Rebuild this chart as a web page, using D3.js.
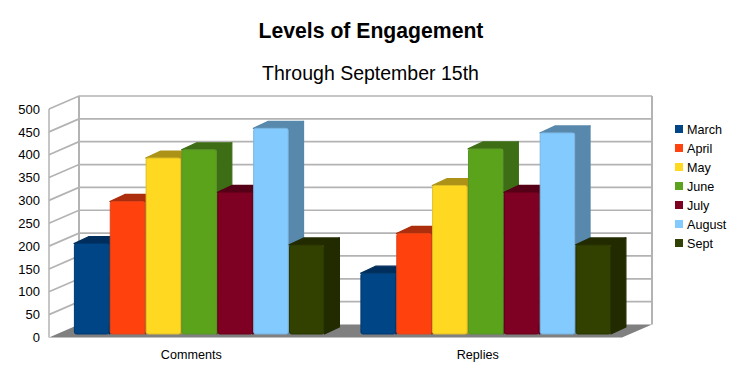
<!DOCTYPE html>
<html><head><meta charset="utf-8">
<script src="https://cdnjs.cloudflare.com/ajax/libs/d3/7.8.5/d3.min.js"></script>
<style>html,body{margin:0;background:#fff}svg{display:block}text{font-family:"Liberation Sans",Arial,sans-serif;fill:#000}</style>
</head><body><svg id="c" width="740" height="370"></svg>
<script>
const categories = ["Comments","Replies"];
const seriesNames = ["March","April","May","June","July","August","Sept"];
const comments = [198,290,385,403,310,450,195];
const replies = [133,220,325,405,310,440,195];
const colors = ["#004586","#ff420e","#ffd820","#5ba31e","#7e0021","#83caff","#314004"];
const yTicks = [0,50,100,150,200,250,300,350,400,450,500];
const titleText = "Levels of Engagement", subtitleText = "Through September 15th";

const svg = d3.select("#c");
const defs = svg.append("defs");
defs.append("filter").attr("id","soft").append("feGaussianBlur").attr("stdDeviation",0.35);

const x = d3.scaleBand().domain(categories).range([49,622]);
const inner = d3.scaleBand().domain(seriesNames).range([25,276]);
const yWall = d3.scaleLinear().domain([0,500]).range([337.5,109]);   // front plane of the axis
const yBar = d3.scaleLinear().domain([0,500]).range([334,105.5]);    // plane of the bars
const wallDx = 30, wallDy = -13, barDx = 15, barDy = -7;
const grid = "#b3b3b3";

const plot = svg.append("g").attr("filter","url(#soft)");

// gridlines and walls
plot.append("g").selectAll("path").data(yTicks.filter(t=>t>0)).join("path")
  .attr("fill","none").attr("stroke",grid).attr("stroke-width",1.7)
  .attr("d",t=>d3.line()([[x.range()[0],yWall(t)],[x.range()[0]+wallDx,yWall(t)+wallDy],[x.range()[1]+wallDx,yWall(t)+wallDy]]));
plot.append("path").attr("fill","none").attr("stroke",grid).attr("stroke-width",1.5)
  .attr("d",d3.line()([[x.range()[0],yWall(0)],[x.range()[0],yWall(500)]]));
plot.append("path").attr("fill","none").attr("stroke",grid).attr("stroke-width",2)
  .attr("d",d3.line()([[x.range()[0]+wallDx,yWall(0)+wallDy],[x.range()[0]+wallDx,yWall(500)+wallDy]]));
plot.append("path").attr("fill","none").attr("stroke",grid).attr("stroke-width",2)
  .attr("d",d3.line()([[x.range()[1]+wallDx,yWall(0)+wallDy],[x.range()[1]+wallDx,yWall(500)+wallDy]]));

// floor
const fb = yWall(0);
plot.append("path").attr("fill","#808080")
  .attr("d",d3.line()([[x.range()[0],fb],[x.range()[0]+wallDx,fb+wallDy],[x.range()[1]+wallDx,fb+wallDy],[x.range()[1],fb]]));

// bars
const valuesByCat = {Comments:comments, Replies:replies};
categories.forEach(cat=>{
  const g = plot.append("g");
  seriesNames.forEach((s,i)=>{
    const v = valuesByCat[cat][i], c = d3.color(colors[i]);
    const x0 = x(cat)+inner(s), x1 = x0+inner.bandwidth()-0.6, yT = yBar(v), yB = yBar(0);
    const dark = c.darker(1.1).formatHex();
    g.append("path").attr("fill",dark).attr("stroke",dark).attr("stroke-width",1.2).attr("stroke-linejoin","round")
      .attr("d",d3.line()([[x1,yT],[x1+barDx,yT+barDy],[x1+barDx,yB+barDy],[x1,yB]])+"Z");
    g.append("path").attr("fill",dark).attr("stroke",dark).attr("stroke-width",1.2).attr("stroke-linejoin","round")
      .attr("d",d3.line()([[x0,yT],[x0+barDx,yT+barDy],[x1+barDx,yT+barDy],[x1,yT]])+"Z");
    const edge = d3.interpolateRgb(colors[i], i===6||i===4||i===0 ? "#000" : "#555")(0.18);
    g.append("rect").attr("x",x0+0.4).attr("y",yT).attr("width",x1-x0-0.8).attr("height",yB-yT)
      .attr("rx",2).attr("fill",colors[i]).attr("stroke",edge).attr("stroke-width",1);
  });
});

// axes as text
const yAxis = svg.append("g").attr("transform","translate(40,0)")
  .call(d3.axisLeft(yWall).tickValues(yTicks).tickSize(0).tickPadding(0).tickFormat(d3.format("d")));
yAxis.select(".domain").remove();
yAxis.selectAll("text").attr("font-size",13).style("font-family",'"Liberation Sans",Arial,sans-serif').attr("fill","#000");

const xAxis = svg.append("g").attr("transform","translate(-1,350)")
  .call(d3.axisBottom(x).tickSize(0).tickPadding(0));
xAxis.select(".domain").remove();
xAxis.selectAll("text").attr("font-size",12.6).style("font-family",'"Liberation Sans",Arial,sans-serif').attr("fill","#000");

// titles
svg.append("text").attr("x",371).attr("y",38).attr("text-anchor","middle").attr("font-size",21.2).attr("font-weight","bold").text(titleText);
svg.append("text").attr("x",370.5).attr("y",80).attr("text-anchor","middle").attr("font-size",19.5).text(subtitleText);

// legend
const legendY = d3.scalePoint().domain(seriesNames).range([125,239]);
const lg = svg.append("g").selectAll("g").data(seriesNames).join("g")
  .attr("transform",d=>`translate(675,${legendY(d)})`);
lg.append("rect").attr("width",8).attr("height",8).attr("fill",(d,i)=>colors[i]);
lg.append("text").attr("x",12).attr("y",8.5).attr("font-size",12.6).text(d=>d);
</script></body></html>
